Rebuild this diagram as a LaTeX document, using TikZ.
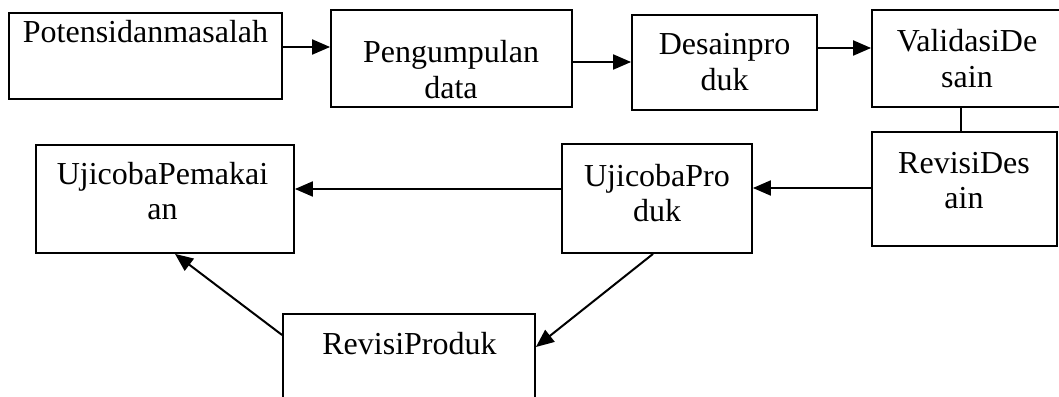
\documentclass[tikz,border=0pt]{standalone}
\usepackage{fontspec}
\setmainfont{Liberation Serif}
\usetikzlibrary{arrows.meta}
\begin{document}
\begin{tikzpicture}[x=1pt,y=-1pt,
  every node/.style={font=\fontsize{32}{35.5}\selectfont},
  box/.style={draw, line width=1.8pt, rectangle, inner sep=0pt},
  label/.style={inner sep=0pt, anchor=base},
  link/.style={line width=2pt},
  arr/.style={link, -{Triangle[length=18pt,width=15pt]}}]
\useasboundingbox (0,0) rectangle (1059,396);
\begin{scope}
\clip (0,0) rectangle (1059,396);
% process boxes
\node[box, minimum width=273, minimum height=86]  (pot)  at (145.5,56)  {};
\node[box, minimum width=241, minimum height=97]  (peng) at (451.5,58.5) {};
\node[box, minimum width=185, minimum height=95]  (des)  at (724.5,62.5) {};
\node[box, minimum width=198, minimum height=97]  (val)  at (971,58.5)   {};
\node[box, minimum width=185, minimum height=114] (revd) at (964.5,189)  {};
\node[box, minimum width=190, minimum height=109] (ujp)  at (657,198.5)  {};
\node[box, minimum width=258, minimum height=108] (ujm)  at (165,199)    {};
\node[box, minimum width=252, minimum height=106] (revp) at (409,367)    {};
% box texts
\node[label] (tpot)  at (145.5,43) {\parbox[t]{270pt}{\centering Potensidanmasalah}};
\node[label] (tpeng) at (451,63)   {\parbox[t]{236pt}{\centering Pengumpulan\\data}};
\node[label] (tdes)  at (724.5,55) {\parbox[t]{180pt}{\centering Desainpro\\duk}};
\node[label] (tval)  at (967,52)   {\parbox[t]{180pt}{\centering ValidasiDe\\sain}};
\node[label] (trevd) at (964,173)  {\parbox[t]{180pt}{\centering RevisiDes\\ain}};
\node[label] (tujp)  at (657,186)  {\parbox[t]{186pt}{\centering UjicobaPro\\duk}};
\node[label] (tujm)  at (162.5,184){\parbox[t]{250pt}{\centering UjicobaPemakai\\an}};
\node[label] (trevp) at (409.5,354){\parbox[t]{248pt}{\centering RevisiProduk}};
% connectors
\draw[arr]  ([yshift=9pt]pot.east)    -- ([yshift=11.5pt]peng.west);
\draw[arr]  ([yshift=-3.5pt]peng.east) -- ([yshift=0.5pt]des.west);
\draw[arr]  ([yshift=14.5pt]des.east) -- ([yshift=10.5pt]val.west);
\draw[link] ([xshift=-10pt]val.south) -- ([xshift=-3.5pt]revd.north);
\draw[arr]  ([yshift=1pt]revd.west)   -- ([yshift=10.5pt]ujp.east);
\draw[arr]  ([yshift=9.5pt]ujp.west)  -- ([yshift=10pt]ujm.east);
\draw[arr]  ([xshift=-4pt]ujp.south)  -- ([yshift=20pt]revp.east);
\draw[arr]  ([yshift=32pt]revp.west)  -- ([xshift=10pt]ujm.south);
\end{scope}
\end{tikzpicture}
\end{document}
